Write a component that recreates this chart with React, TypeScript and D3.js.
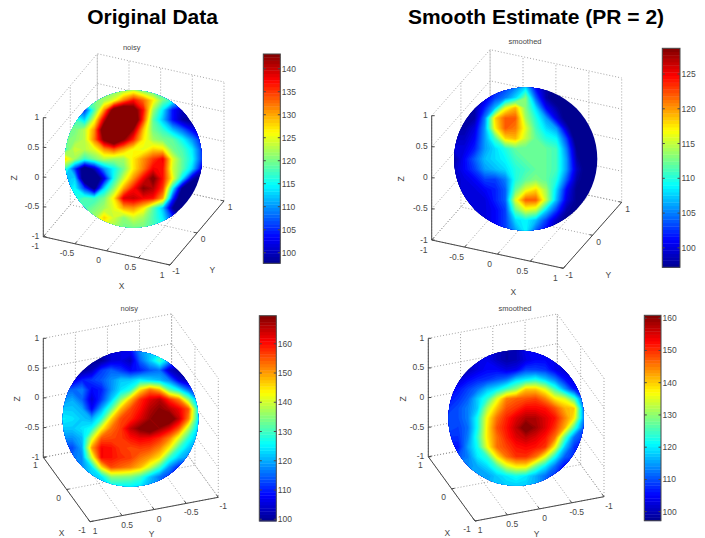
import React from "react";
import * as d3 from "d3";

const noisyTop = [
  120,120,120,120,120,120,122,124,120,118,118,116,116,116,116,
  120,120,120,120,122,125,132,137,133,127,120,116,112,110,110,
  112,110,106,118,131,146,150,146,137,122,114,104,100,100,100,
  118,118,113,125,140,152,154,150,135,119,112,104,99,97,97,
  120,120,123,131,148,155,152,142,129,120,117,112,108,103,100,
  120,121,123,132,144,150,143,136,127,122,120,119,115,110,104,
  118,124,123,125,131,134,130,126,125,128,127,120,118,114,106,
  128,122,117,120,123,122,122,127,131,135,138,125,119,115,106,
  118,106,94,100,110,115,120,127,132,138,137,124,119,113,102,
  112,113,92,92,102,116,124,131,138,144,137,126,114,100,95,
  112,115,106,96,113,121,130,137,143,141,135,115,97,92,92,
  115,116,118,117,120,127,139,140,138,137,130,106,92,92,92,
  118,118,118,120,122,125,130,131,127,119,112,98,92,92,92,
  120,120,120,122,128,124,121,124,122,118,114,106,98,98,98,
  120,120,120,122,124,122,120,120,120,118,116,112,110,110,110,
];
const smoothTop = [
  100,100,100,100,102,103,105,108,101,98,97,97,97,97,97,
  98,98,98,100,103,105,108,113,104,98,96,96,96,96,96,
  98,98,98,102,107,116,119,113,108,101,98,96,96,96,96,
  98,98,98,105,118,122,122,114,110,106,100,96,94,94,94,
  98,98,100,106,117,122,121,116,111,108,106,99,94,94,94,
  99,99,101,106,111,118,119,115,112,110,109,103,95,94,94,
  100,100,102,106,108,110,112,112,112,112,111,105,97,94,94,
  98,101,104,107,108,109,111,112,112,112,111,106,98,95,95,
  99,101,103,106,107,108,110,111,112,112,111,106,99,96,96,
  99,100,101,103,103,105,110,112,113,112,110,104,98,96,96,
  99,100,100,101,102,104,112,116,118,114,108,101,97,96,96,
  99,100,100,100,102,104,116,122,122,115,107,100,97,96,96,
  100,100,100,100,101,103,112,116,115,108,103,98,97,97,97,
  100,100,100,100,101,103,108,109,107,103,99,97,97,97,97,
  100,100,100,100,101,103,106,109,104,101,98,97,97,97,97,
];
const noisyBottom = [
  102,102,102,102,103,105,106,108,118,122,124,122,116,110,108,
  100,100,100,100,100,105,106,103,115,122,130,120,112,106,104,
  100,100,100,103,112,115,112,108,110,114,116,104,100,100,100,
  105,105,110,112,114,118,122,122,125,123,121,117,106,102,102,
  115,115,117,108,110,118,124,128,145,153,148,132,125,115,110,
  118,120,115,105,112,122,135,148,158,163,166,158,152,135,118,
  122,122,120,108,120,132,148,156,160,166,169,166,162,155,125,
  125,124,122,120,128,146,156,158,163,168,174,174,165,152,125,
  122,122,124,127,143,153,157,165,170,174,168,163,155,138,122,
  118,118,121,140,155,156,157,160,162,161,158,152,141,128,120,
  113,113,120,150,161,160,157,156,157,156,152,144,130,122,118,
  116,116,118,140,161,160,158,157,153,150,145,130,122,118,116,
  118,118,118,124,145,156,154,152,148,140,130,118,110,110,110,
  120,120,120,122,124,135,135,134,130,122,116,112,110,110,110,
  122,122,122,122,123,125,125,125,124,120,118,114,112,112,112,
];
const smoothBottom = [
  104,104,104,104,104,101,99,100,104,105,105,105,104,104,104,
  102,102,102,103,104,101,99,100,103,105,105,104,103,103,103,
  100,100,100,103,105,105,103,104,109,109,108,104,102,102,102,
  102,102,105,107,108,110,112,118,120,122,118,113,106,103,103,
  106,106,109,112,117,120,125,130,140,140,135,125,115,106,106,
  106,108,111,118,124,135,145,147,148,149,145,138,135,125,108,
  108,110,113,118,132,141,148,150,153,153,152,148,142,140,112,
  110,110,113,122,137,146,151,155,158,158,155,152,145,138,113,
  110,109,112,122,138,148,152,157,163,159,155,150,142,125,110,
  108,108,113,124,138,146,151,155,157,155,152,146,127,112,108,
  106,106,115,122,136,146,149,152,153,152,150,137,118,108,106,
  110,110,113,120,124,138,146,150,150,146,136,122,111,108,106,
  114,114,114,116,119,125,134,138,138,128,120,112,105,105,105,
  116,116,116,116,115,118,120,122,120,116,112,108,105,105,105,
  118,118,118,118,116,118,118,118,118,116,112,108,106,106,106,
];

const xTicksFull = [-1, -0.5, 0, 0.5, 1];
const yTicksFull = [-1, -0.5, 0, 0.5, 1];
const yTicksTop = [-1, 0, 1];
const xTicksBottom = [-1, 0, 1];
const zTicks = [-1, -0.5, 0, 0.5, 1];

const barTicksA = [100, 105, 110, 115, 120, 125, 130, 135, 140];
const barTicksB = [100, 105, 110, 115, 120, 125];
const barTicksC = [100, 110, 120, 130, 140, 150, 160];
const barTicksD = [100, 110, 120, 130, 140, 150, 160];

const INK = "#484848";
const FONT = "'Liberation Sans', Arial, sans-serif";

// matlab jet, 64 steps
const jetScale = d3
  .scaleLinear<string>()
  .domain([0, 0.125, 0.375, 0.625, 0.875, 1])
  .range(["#00008f", "#0000ff", "#00ffff", "#ffff00", "#ff0000", "#800000"])
  .clamp(true);
const LEVELS = 64;

type Pt = [number, number];

const panels = [
  {
    name: "noisy", values: noisyTop, lim: [97.7, 143.2],
    cx: 133.5, cy: 159, r: 68.5, titleX: 131.7, titleY: 49.5,
    O: [43.3, 236.7] as Pt, M: [170, 265] as Pt, R: [224, 201] as Pt, zTop: 117.7,
    xDom: [-1, 1], yDom: [-1, 1], xTicks: xTicksFull, yTicks: yTicksTop,
    xOff: [-8, 12.5] as Pt, yOff: [6, 9] as Pt,
    xLabel: [121.7, 289] as Pt, yLabel: [212.3, 273] as Pt, zLabel: [17, 178] as Pt,
    bar: [263.3, 280.3, 54, 263.3], barTicks: barTicksA,
  },
  {
    name: "smoothed", values: smoothTop, lim: [97.2, 128.7],
    cx: 525.7, cy: 159, r: 71.6, titleX: 525, titleY: 43.5,
    O: [431.7, 240] as Pt, M: [563.3, 268.3] as Pt, R: [621.7, 202.3] as Pt, zTop: 115.7,
    xDom: [-1, 1], yDom: [-1, 1], xTicks: xTicksFull, yTicks: yTicksTop,
    xOff: [-8, 13] as Pt, yOff: [6, 10] as Pt,
    xLabel: [513.3, 295] as Pt, yLabel: [608.3, 278] as Pt, zLabel: [403.5, 179] as Pt,
    bar: [662.3, 680, 48.3, 267.3], barTicks: barTicksB,
  },
  {
    name: "noisy", values: noisyBottom, lim: [99.4, 169.6],
    cx: 130.5, cy: 418.8, r: 67.8, titleX: 129.3, titleY: 311,
    O: [43.3, 457.3] as Pt, M: [90, 521.7] as Pt, R: [218.3, 497.3] as Pt, zTop: 338.3,
    xDom: [1, -1], yDom: [1, -1], xTicks: xTicksBottom, yTicks: yTicksFull,
    xOff: [-8, 11] as Pt, yOff: [5, 12] as Pt,
    xLabel: [61.7, 535.5] as Pt, yLabel: [151.7, 536.5] as Pt, zLabel: [19.5, 399] as Pt,
    bar: [259.3, 276.3, 315.7, 521], barTicks: barTicksC,
  },
  {
    name: "smoothed", values: smoothBottom, lim: [97.2, 160.9],
    cx: 516.2, cy: 418, r: 67.8, titleX: 515, titleY: 310.5,
    O: [428.3, 456.7] as Pt, M: [475, 521] as Pt, R: [604, 496.7] as Pt, zTop: 338.3,
    xDom: [1, -1], yDom: [1, -1], xTicks: xTicksBottom, yTicks: yTicksFull,
    xOff: [-8, 11] as Pt, yOff: [5, 12] as Pt,
    xLabel: [447.3, 535.5] as Pt, yLabel: [536.7, 536.5] as Pt, zLabel: [405.5, 399] as Pt,
    bar: [644.3, 661, 315.3, 520.7], barTicks: barTicksD,
  },
];

type Panel = (typeof panels)[number];

const fmt = (v: number) => String(v);

function Sphere({ p, id }: { p: Panel; id: string }) {
  const n = 15;
  const [lo, hi] = p.lim;
  const step = (hi - lo) / LEVELS;
  const thresholds = d3.range(LEVELS).map((i) => lo + i * step);
  const contours = d3.contours().size([n, n]).thresholds(thresholds)(p.values);
  // node i sits at contour coordinate i + 0.5
  const sx = d3.scaleLinear().domain([0.5, n - 0.5]).range([p.cx - p.r, p.cx + p.r]);
  const sy = d3.scaleLinear().domain([0.5, n - 0.5]).range([p.cy - p.r, p.cy + p.r]);
  const path = d3.geoPath(
    d3.geoTransform({
      point(x, y) {
        this.stream.point(sx(x), sy(y));
      },
    })
  );
  return (
    <g>
      <clipPath id={id}>
        <circle cx={p.cx} cy={p.cy} r={p.r} />
      </clipPath>
      <circle cx={p.cx} cy={p.cy} r={p.r} fill={jetScale(0)} />
      <g clipPath={`url(#${id})`}>
        {contours.map((c, i) => (
          <path key={i} d={path(c as any) || ""} fill={jetScale((i + 0.5) / LEVELS)} />
        ))}
      </g>
    </g>
  );
}

function Axes({ p }: { p: Panel }) {
  const zPx = d3.scaleLinear().domain([-1, 1]).range([p.O[1], p.zTop]);
  const h = p.zTop - p.O[1];
  const u1: Pt = [p.M[0] - p.O[0], p.M[1] - p.O[1]];
  const u2: Pt = [p.R[0] - p.M[0], p.R[1] - p.M[1]];
  const back: Pt = [p.O[0] + u2[0], p.O[1] + u2[1]];

  const xFrac = d3.scaleLinear().domain(p.xDom).range([0, 1]);
  const yFrac = d3.scaleLinear().domain(p.yDom).range([0, 1]);
  const along = (t: number): Pt => [p.O[0] + u1[0] * xFrac(t), p.O[1] + u1[1] * xFrac(t)];
  const across = (t: number): Pt => [p.M[0] + u2[0] * yFrac(t), p.M[1] + u2[1] * yFrac(t)];

  const lines: string[] = [];
  const line = d3.line();
  zTicks.forEach((z) => {
    const dz = zPx(z) - p.O[1];
    lines.push(
      line([
        [p.O[0], p.O[1] + dz],
        [back[0], back[1] + dz],
        [p.R[0], p.R[1] + dz],
      ])!
    );
  });
  p.xTicks.forEach((t) => {
    const a = along(t);
    const b: Pt = [a[0] + u2[0], a[1] + u2[1]];
    lines.push(line([a, b, [b[0], b[1] + h]])!);
  });
  p.yTicks.forEach((t) => {
    const a = across(t);
    const b: Pt = [a[0] - u1[0], a[1] - u1[1]];
    lines.push(line([a, b, [b[0], b[1] + h]])!);
  });

  const tick = 3;
  const unit = (v: Pt): Pt => {
    const l = Math.hypot(v[0], v[1]);
    return [v[0] / l, v[1] / l];
  };
  const d1 = unit(u1);
  const d2 = unit(u2);

  const textProps = { fontFamily: FONT, fontSize: 8.5, fill: INK };
  return (
    <g>
      {lines.map((d, i) => (
        <path key={i} d={d} fill="none" stroke="#8c8c8c" strokeWidth={0.8} strokeDasharray="1 2" />
      ))}
      <line x1={p.O[0]} y1={p.O[1]} x2={p.O[0]} y2={p.zTop} stroke={INK} />
      <line x1={p.O[0]} y1={p.O[1]} x2={p.M[0]} y2={p.M[1]} stroke={INK} />
      <line x1={p.M[0]} y1={p.M[1]} x2={p.R[0]} y2={p.R[1]} stroke={INK} />
      {zTicks.map((z) => (
        <g key={z}>
          <line x1={p.O[0]} x2={p.O[0] + 3} y1={zPx(z)} y2={zPx(z)} stroke={INK} />
          <text {...textProps} x={p.O[0] - 4} y={zPx(z) + 2.5} textAnchor="end">
            {fmt(z)}
          </text>
        </g>
      ))}
      {p.xTicks.map((t) => {
        const a = along(t);
        return (
          <g key={t}>
            <line x1={a[0]} y1={a[1]} x2={a[0] + d2[0] * tick} y2={a[1] + d2[1] * tick} stroke={INK} />
            <text {...textProps} x={a[0] + p.xOff[0]} y={a[1] + p.xOff[1]} textAnchor="middle">
              {fmt(t)}
            </text>
          </g>
        );
      })}
      {p.yTicks.map((t) => {
        const a = across(t);
        return (
          <g key={t}>
            <line x1={a[0]} y1={a[1]} x2={a[0] - d1[0] * tick} y2={a[1] - d1[1] * tick} stroke={INK} />
            <text {...textProps} x={a[0] + p.yOff[0]} y={a[1] + p.yOff[1]} textAnchor="middle">
              {fmt(t)}
            </text>
          </g>
        );
      })}
      <text {...textProps} x={p.xLabel[0]} y={p.xLabel[1]} textAnchor="middle">X</text>
      <text {...textProps} x={p.yLabel[0]} y={p.yLabel[1]} textAnchor="middle">Y</text>
      <text
        {...textProps}
        textAnchor="middle"
        transform={`translate(${p.zLabel[0]},${p.zLabel[1]}) rotate(-90)`}
      >
        Z
      </text>
      <text fontFamily={FONT} fontSize={7.5} fill={INK} x={p.titleX} y={p.titleY} textAnchor="middle">
        {p.name}
      </text>
    </g>
  );
}

function ColorBar({ p }: { p: Panel }) {
  const [x0, x1, y0, y1] = p.bar;
  const [lo, hi] = p.lim;
  const y = d3.scaleLinear().domain([lo, hi]).range([y1, y0]);
  const step = (hi - lo) / LEVELS;
  return (
    <g>
      {d3.range(LEVELS).map((i) => (
        <rect
          key={i}
          x={x0}
          width={x1 - x0}
          y={y(lo + (i + 1) * step)}
          height={y(lo + i * step) - y(lo + (i + 1) * step) + 0.4}
          fill={jetScale((i + 0.5) / LEVELS)}
        />
      ))}
      <rect x={x0} y={y0} width={x1 - x0} height={y1 - y0} fill="none" stroke={INK} />
      {p.barTicks.map((t) => (
        <g key={t}>
          <line x1={x0} x2={x0 + 2.5} y1={y(t)} y2={y(t)} stroke={INK} />
          <line x1={x1 - 2.5} x2={x1} y1={y(t)} y2={y(t)} stroke={INK} />
          <text fontFamily={FONT} fontSize={8.5} fill={INK} x={x1 + 1.5} y={y(t) + 3}>
            {t}
          </text>
        </g>
      ))}
    </g>
  );
}

export default function App() {
  return (
    <svg
      width={705}
      height={538}
      style={{ position: "absolute", left: 0, top: 0, background: "#fff" }}
    >
      <text fontFamily={FONT} fontWeight="bold" fontSize={21} x={152.6} y={24} textAnchor="middle" fill="#000">
        Original Data
      </text>
      <text fontFamily={FONT} fontWeight="bold" fontSize={21} x={536} y={24} textAnchor="middle" fill="#000">
        Smooth Estimate (PR = 2)
      </text>
      {panels.map((p, i) => (
        <g key={i}>
          <Axes p={p} />
          <Sphere p={p} id={`disc${i}`} />
          <ColorBar p={p} />
        </g>
      ))}
    </svg>
  );
}
